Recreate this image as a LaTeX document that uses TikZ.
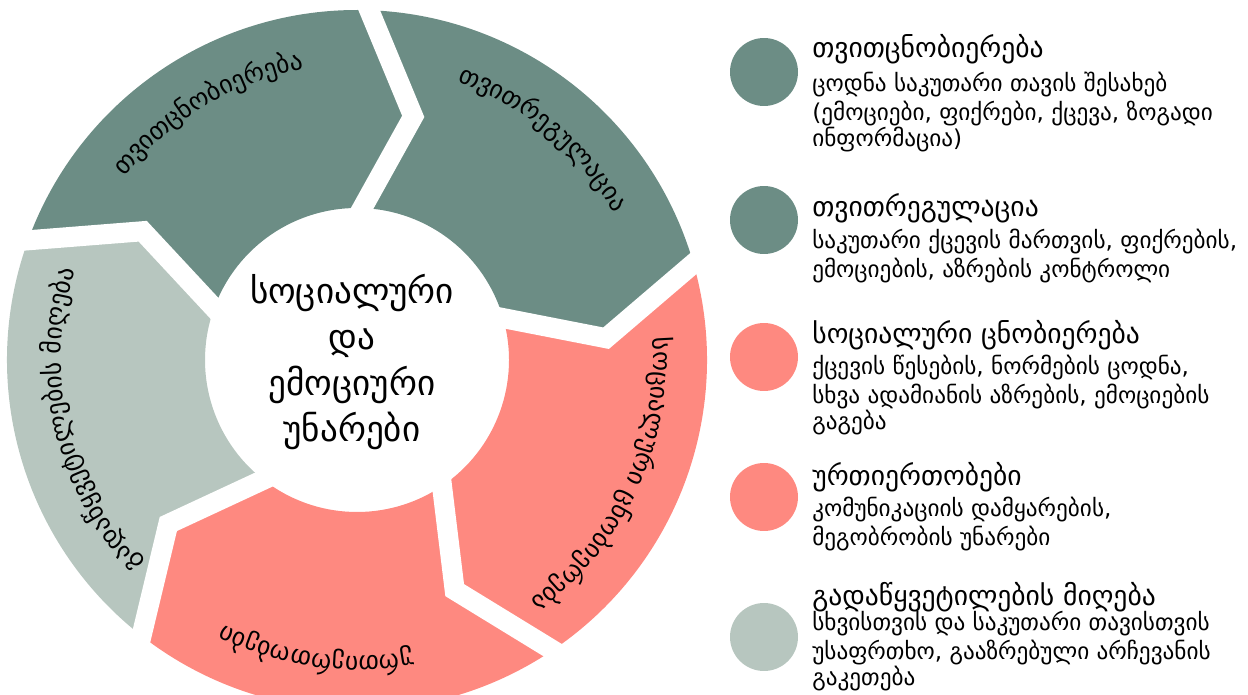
\documentclass[tikz,border=0pt]{standalone}
\usepackage{fontspec}
\setmainfont{DejaVu Sans}
\usepackage{tikz}
\usetikzlibrary{decorations.text}

\definecolor{sage}{HTML}{6C8D85}
\definecolor{mist}{HTML}{B7C6BF}
\definecolor{coral}{HTML}{FE8980}
\newcommand\ringfont{\fontsize{14.5}{16}\selectfont}

\begin{document}
\begin{tikzpicture}[x=0.02cm, y=0.02cm,
    gapline/.style={white, line width=11.4pt, line cap=rect, line join=miter},
    ringlabel/.style={decorate, decoration={text along path, text align=center, text={|\ringfont|#1}}}]
  \useasboundingbox (0,0) rectangle (1248,694);

  \begin{scope}[shift={(357,334)}]
    % ring segments
    \fill[sage] (160:350) arc[start angle=160, end angle=88, radius=350] -- (77:250) -- (88:152) arc[start angle=88, end angle=160, radius=152] -- (149:250) -- cycle;
    \fill[sage] (88:350) arc[start angle=88, end angle=16, radius=350] -- (5:250) -- (16:152) arc[start angle=16, end angle=88, radius=152] -- (77:250) -- cycle;
    \fill[coral] (16:350) arc[start angle=16, end angle=-56, radius=350] -- (-67:250) -- (-56:152) arc[start angle=-56, end angle=16, radius=152] -- (5:250) -- cycle;
    \fill[coral] (-56:350) arc[start angle=-56, end angle=-128, radius=350] -- (-139:250) -- (-128:152) arc[start angle=-128, end angle=-56, radius=152] -- (-67:250) -- cycle;
    \fill[mist] (232:350) arc[start angle=232, end angle=160, radius=350] -- (149:250) -- (160:152) arc[start angle=160, end angle=232, radius=152] -- (221:250) -- cycle;

    % white gaps
    \draw[gapline] (160:350) -- (149:250) -- (160:152);
    \draw[gapline] (88:350) -- (77:250) -- (88:152);
    \draw[gapline] (16:350) -- (5:250) -- (16:152);
    \draw[gapline] (-56:350) -- (-67:250) -- (-56:152);
    \draw[gapline] (-128:350) -- (-139:250) -- (-128:152);

    % labels on the ring
    \path[ringlabel=თვითცნობიერება] (156:296) arc[start angle=156, end angle=86, radius=296];
    \path[ringlabel=თვითრეგულაცია] (85:296) arc[start angle=85, end angle=15, radius=296];
    \path[ringlabel=სოციალური ცნობიერება] (15:296) arc[start angle=15, end angle=-65, radius=296];
    \path[ringlabel=ურთიერთობები] (-63:296) arc[start angle=-63, end angle=-133, radius=296];
    \path[ringlabel=გადაწყვეტილების მიღება] (233:296) arc[start angle=233, end angle=153, radius=296];

    \node[align=center, font=\fontsize{20}{26}\selectfont] (hub) at (-5,-2) {სოციალური\\და\\ემოციური\\უნარები};
  \end{scope}

  \begin{scope}[every node/.style={circle, minimum size=1.36cm, inner sep=0pt}]
    \node[fill=sage] (c1) at (764,622) {};
    \node[fill=sage] (c2) at (764,474) {};
    \node[fill=coral] (c3) at (764,337) {};
    \node[fill=coral] (c4) at (764,197) {};
    \node[fill=mist] (c5) at (764,57) {};
  \end{scope}

  \begin{scope}[every node/.style={anchor=base west, inner sep=0pt, font=\fontsize{15.7}{18}\selectfont}]
    \node (t1) at (812,636) {თვითცნობიერება};
    \node (t2) at (812,477) {თვითრეგულაცია};
    \node (t3) at (812,351) {სოციალური ცნობიერება};
    \node (t4) at (812,209) {ურთიერთობები};
    \node (t5) at (812,89) {გადაწყვეტილების მიღება};
  \end{scope}

  \begin{scope}[every node/.style={anchor=north west, inner sep=0pt, align=left, yshift=10.5pt, font=\fontsize{13.2}{15}\selectfont}]
    \node (d1) at (812,604) {\strut ცოდნა საკუთარი თავის შესახებ\\(ემოციები, ფიქრები, ქცევა, ზოგადი\\ინფორმაცია)};
    \node (d2) at (812,447) {\strut საკუთარი ქცევის მართვის, ფიქრების,\\ემოციების, აზრების კონტროლი};
    \node (d3) at (812,321) {\strut ქცევის წესების, ნორმების ცოდნა,\\სხვა ადამიანის აზრების, ემოციების\\გაგება};
    \node (d4) at (812,179) {\strut კომუნიკაციის დამყარების,\\მეგობრობის უნარები};
    \node (d5) at (812,65) {\strut სხვისთვის და საკუთარი თავისთვის\\უსაფრთხო, გააზრებული არჩევანის\\გაკეთება};
  \end{scope}
\end{tikzpicture}
\end{document}
